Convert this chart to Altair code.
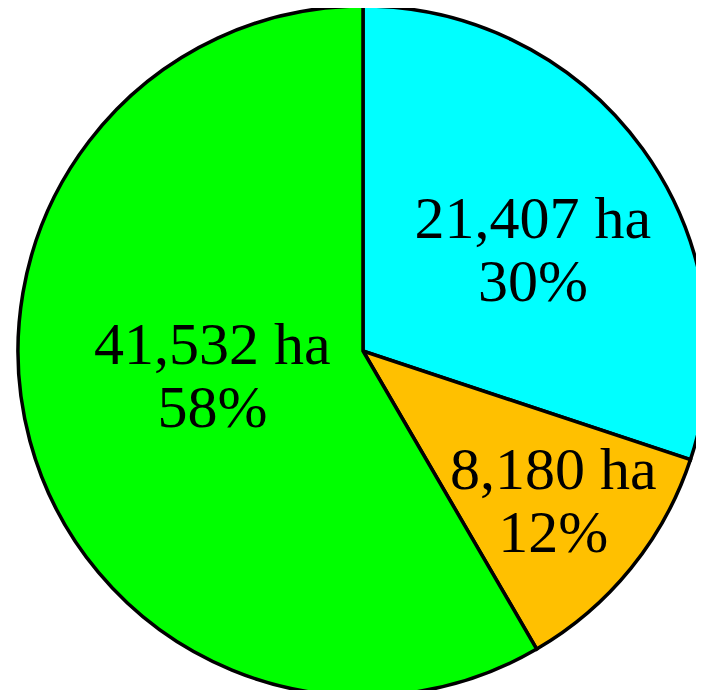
import altair as alt
import pandas as pd

# Data
categories = ["Cyan zone", "Orange zone", "Green zone"]
areas_ha = [21407, 8180, 41532]
percent_labels = ["30%", "12%", "58%"]
colors = ["#00FFFF", "#FFC000", "#00FF00"]

# Label placement (style): radius in px and angular nudge in degrees
label_radius = {"Cyan zone": 197, "Orange zone": 243, "Green zone": 153}
label_nudge = {"Cyan zone": 5.4, "Orange zone": -0.6, "Green zone": 5.0}

df = pd.DataFrame({
    "cat": categories,
    "value": areas_ha,
    "idx": list(range(len(categories))),
    "label": [f"{v:,} ha\n{p}" for v, p in zip(areas_ha, percent_labels)],
})
df["lr"] = df["cat"].map(label_radius)
df["nudge"] = df["cat"].map(label_nudge)

R = 345
LH = 63

base = alt.Chart(df)

arcs = base.mark_arc(stroke="black", strokeWidth=3.5, outerRadius=R).encode(
    theta=alt.Theta("value:Q", stack=True),
    color=alt.Color("cat:N", scale=alt.Scale(domain=categories, range=colors), legend=None),
    order=alt.Order("idx:Q"),
)

text = base.transform_joinaggregate(
    total="sum(value)"
).transform_window(
    cum="sum(value)", sort=[alt.SortField("idx")], frame=[None, 0]
).transform_calculate(
    mid="(datum.cum - datum.value/2) / datum.total * 2 * PI + datum.nudge * PI / 180"
).mark_text(
    font="Liberation Serif", fontSize=60, lineBreak="\n", lineHeight=LH,
    align="center", baseline="middle", color="black", dy=-LH / 2,
).encode(
    theta=alt.Theta("mid:Q", scale=None),
    radius=alt.Radius("lr:Q", scale=None),
    text="label:N",
)

chart = alt.layer(arcs, text).properties(
    width=666, height=678, autosize="none",
    padding={"left": 22, "top": 4, "right": 0, "bottom": 0},
).configure_view(stroke=None)

chart.save("out.html", embed_options={"renderer": "svg", "actions": False})
